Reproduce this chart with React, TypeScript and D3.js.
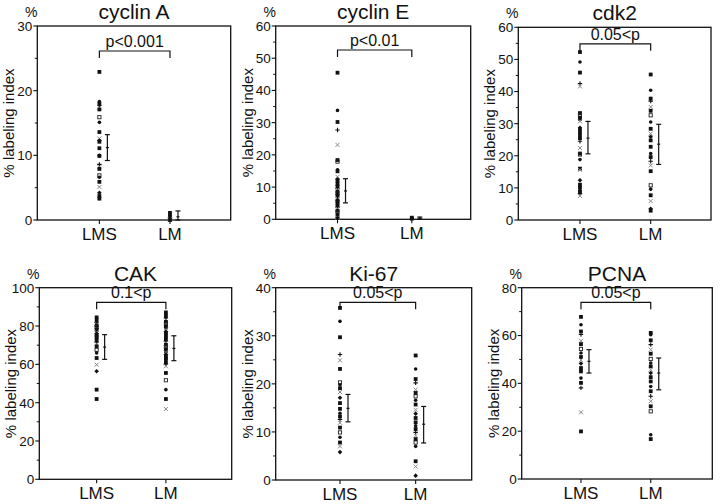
import React from "react";
import * as d3 from "d3";

const groups = ["LMS", "LM"];
const titles = ["cyclin A", "cyclin E", "cdk2", "CAK", "Ki-67", "PCNA"];
const pLabels = ["p<0.001", "p<0.01", "0.05<p", "0.1<p", "0.05<p", "0.05<p"];
const yMax = [30, 60, 60, 100, 40, 80];
const yMajor = [10, 10, 10, 20, 10, 20];
const yMinor = [5, 5, 5, 10, 5, 10];

const cyclinA_LMS = [22.9, 18.3, 18.0, 17.7, 17.4, 17.1, 15.9, 15.1, 13.6, 12.6, 12.3, 12.1, 11.1, 10.0, 9.9, 8.6, 8.2, 7.9, 6.9, 6.6, 5.9, 5.1, 4.2, 3.7, 3.3];
const cyclinA_LM = [1.1, 0.8, 0.5, 0.3, 0.1, 0.0];
const cyclinE_LMS = [45.5, 33.8, 30.2, 27.7, 23.1, 18.4, 17.9, 15.4, 14.9, 13.2, 12.4, 12.0, 11.1, 10.6, 10.1, 9.5, 9.2, 8.6, 8.0, 7.7, 7.1, 6.4, 6.0, 5.6, 5.2, 4.6, 4.1, 3.8, 3.3, 2.7, 2.2, 1.6, 0.8, 0.5, 0.4];
const cyclinE_LM = [0.5, 0.3, 0.2];
const cdk2_LMS = [52.3, 49.2, 45.9, 42.5, 41.6, 33.3, 32.7, 32.0, 31.5, 30.7, 28.7, 28.0, 26.9, 26.2, 25.5, 24.5, 22.4, 20.7, 20.4, 18.8, 16.0, 15.6, 12.4, 11.0, 10.1, 9.2, 8.8, 8.2, 7.5];
const cdk2_LM = [45.3, 40.4, 37.8, 37.0, 35.2, 34.0, 32.6, 30.5, 28.4, 26.9, 25.9, 24.8, 22.8, 20.7, 19.6, 18.3, 17.0, 15.2, 10.8, 9.6, 7.7, 5.9, 3.5, 2.9];
const cak_LMS = [84.5, 83.6, 82.4, 81.8, 81.0, 80.3, 79.4, 78.6, 77.9, 76.8, 76.1, 75.2, 74.4, 73.6, 72.4, 71.5, 70.6, 69.4, 67.6, 65.9, 63.3, 59.8, 56.4, 46.8, 41.9];
const cak_LM = [87.1, 85.9, 85.0, 84.2, 83.1, 82.2, 81.0, 80.1, 79.2, 78.1, 77.0, 76.2, 75.1, 74.0, 73.2, 72.1, 71.0, 70.2, 69.0, 68.1, 67.0, 66.2, 65.1, 64.0, 63.1, 62.2, 61.0, 60.1, 59.0, 55.5, 51.7, 46.8, 41.9, 36.7];
const ki67_LMS = [35.8, 33.0, 29.7, 26.1, 24.9, 23.1, 20.3, 19.8, 19.1, 18.3, 17.1, 16.0, 14.8, 13.9, 13.2, 12.6, 11.9, 10.9, 9.9, 8.9, 7.8, 7.0, 5.8];
const ki67_LM = [25.9, 23.1, 21.0, 20.2, 18.8, 18.1, 17.4, 16.6, 15.7, 14.6, 13.8, 12.9, 12.0, 11.3, 10.6, 9.9, 9.2, 8.5, 7.8, 7.0, 3.9, 2.8, 0.9];
const pcna_LMS = [67.8, 64.5, 61.7, 60.4, 57.8, 56.4, 54.4, 52.7, 51.0, 49.7, 48.3, 46.4, 45.0, 42.2, 40.2, 38.1, 27.9, 19.9];
const pcna_LM = [61.1, 60.3, 58.0, 56.2, 54.1, 52.4, 50.2, 48.5, 47.1, 45.7, 44.3, 42.6, 40.8, 38.7, 36.7, 34.6, 32.5, 30.4, 28.3, 18.5, 16.7];

const points = [
  [cyclinA_LMS, cyclinA_LM],
  [cyclinE_LMS, cyclinE_LM],
  [cdk2_LMS, cdk2_LM],
  [cak_LMS, cak_LM],
  [ki67_LMS, ki67_LM],
  [pcna_LMS, pcna_LM],
];

const errMean = [[11.2, 0.5], [8.8, 0.4], [25.5, 23.6], [69.0, 68.3], [14.9, 11.6], [49.2, 44.3]];
const errLow = [[9.2, 0.0], [5.1, 0.1], [20.6, 17.3], [62.6, 61.9], [12.1, 7.7], [44.3, 37.3]];
const errHigh = [[13.2, 1.4], [12.6, 0.7], [30.7, 29.8], [75.5, 74.9], [17.8, 15.3], [54.1, 50.6]];

// layout (pixels)
const layout = [
  { L: 37.3, R: 230.7, T: 26, B: 220, gx: [0.321, 0.686], br: 25 },
  { L: 275.7, R: 470.7, T: 26, B: 219.3, gx: [0.317, 0.698], br: 24 },
  { L: 518.3, R: 711, T: 27.3, B: 220, gx: [0.32, 0.687], br: 16.5 },
  { L: 39.3, R: 231.7, T: 287.7, B: 479.3, gx: [0.298, 0.658], br: 14.6 },
  { L: 275.7, R: 471.7, T: 287.7, B: 480, gx: [0.328, 0.714], br: 14.6 },
  { L: 521.7, R: 712.3, T: 287.7, B: 479, gx: [0.311, 0.677], br: 14.6 },
];

const markerCycle = ["sq", "dot", "sq", "plus", "xg", "sq", "osq", "dot", "sq", "xg", "dia", "sq"];
const FONT = "'Liberation Sans', Arial, Helvetica, sans-serif";

function Marker({ type, x, y }: { type: string; x: number; y: number }) {
  switch (type) {
    case "sq":
      return <rect x={x - 1.9} y={y - 1.9} width={3.8} height={3.8} fill="#111" />;
    case "osq":
      return <rect x={x - 1.6} y={y - 1.6} width={3.2} height={3.2} fill="none" stroke="#222" strokeWidth={0.9} />;
    case "dot":
      return <circle cx={x} cy={y} r={1.8} fill="#111" />;
    case "plus":
      return <path d={`M${x - 2.2},${y}H${x + 2.2}M${x},${y - 2.2}V${y + 2.2}`} stroke="#111" strokeWidth={1.1} />;
    case "xg":
      return <path d={`M${x - 2},${y - 2}L${x + 2},${y + 2}M${x - 2},${y + 2}L${x + 2},${y - 2}`} stroke="#888" strokeWidth={1} />;
    default:
      return <path d={`M${x},${y - 2.3}L${x + 2.3},${y}L${x},${y + 2.3}L${x - 2.3},${y}Z`} fill="#111" />;
  }
}

function Panel({ i }: { i: number }) {
  const lo = layout[i];
  const y = d3.scaleLinear().domain([0, yMax[i]]).range([lo.B, lo.T]);
  const x = d3.scaleLinear().domain([0, 1]).range([lo.L, lo.R]);
  const majors = d3.range(0, yMax[i] + 0.001, yMajor[i]);
  const minors = d3.range(0, yMax[i] + 0.001, yMinor[i]).filter((v) => !majors.some((m) => Math.abs(m - v) < 1e-6));
  const gxs = lo.gx.map((f) => x(f));
  const by = lo.T + lo.br;
  const cx = (lo.L + lo.R) / 2;
  const cy = (lo.T + lo.B) / 2;
  return (
    <g fontFamily={FONT}>
      <rect x={lo.L} y={lo.T} width={lo.R - lo.L} height={lo.B - lo.T} fill="none" stroke="#111" strokeWidth={1.3} />
      {majors.map((v) => (
        <g key={"M" + v}>
          <line x1={lo.L - 4} x2={lo.L} y1={y(v)} y2={y(v)} stroke="#111" strokeWidth={1.1} />
          <text x={lo.L - 5} y={y(v)} dy="0.36em" textAnchor="end" fontSize={13.5} fill="#111">
            {v}
          </text>
        </g>
      ))}
      {minors.map((v) => (
        <line key={"m" + v} x1={lo.L - 2.5} x2={lo.L} y1={y(v)} y2={y(v)} stroke="#111" strokeWidth={1} />
      ))}
      {groups.map((g, k) => (
        <g key={g}>
          <line x1={gxs[k]} x2={gxs[k]} y1={lo.B} y2={lo.B + 4} stroke="#111" strokeWidth={1.1} />
          <text x={gxs[k]} y={lo.B + 20} textAnchor="middle" fontSize={17} fill="#111">
            {g}
          </text>
        </g>
      ))}
      <text x={cx} y={lo.T - 7} textAnchor="middle" fontSize={21} fill="#111">
        {titles[i]}
      </text>
      <text x={lo.L - 6} y={lo.T - 9} textAnchor="middle" fontSize={14} fill="#111">
        %
      </text>
      <text
        transform={`translate(${lo.L - 23},${cy}) rotate(-90)`}
        textAnchor="middle"
        fontSize={15}
        fill="#111"
      >
        % labeling index
      </text>
      <path
        d={`M${gxs[0]},${by + 7}V${by}H${gxs[1]}V${by + 7}`}
        fill="none"
        stroke="#111"
        strokeWidth={1.2}
      />
      <text x={(gxs[0] + gxs[1]) / 2} y={by - 4} textAnchor="middle" fontSize={16} fill="#111">
        {pLabels[i]}
      </text>
      {points[i].map((vals, k) =>
        vals.map((v, j) => <Marker key={k + "-" + j} type={markerCycle[j % markerCycle.length]} x={gxs[k]} y={y(v)} />)
      )}
      {groups.map((g, k) => {
        const ex = gxs[k] + 8;
        return (
          <g key={"e" + g} stroke="#111" strokeWidth={1.2}>
            <line x1={ex} x2={ex} y1={y(errLow[i][k])} y2={y(errHigh[i][k])} />
            <line x1={ex - 2.5} x2={ex + 2.5} y1={y(errLow[i][k])} y2={y(errLow[i][k])} />
            <line x1={ex - 2.5} x2={ex + 2.5} y1={y(errHigh[i][k])} y2={y(errHigh[i][k])} />
            <line x1={ex - 1.5} x2={ex + 1.5} y1={y(errMean[i][k])} y2={y(errMean[i][k])} />
          </g>
        );
      })}
    </g>
  );
}

export default function App() {
  return (
    <svg
      width={720}
      height={504}
      style={{ position: "absolute", left: 0, top: 0, background: "#fff" }}
    >
      <rect width={720} height={504} fill="#fff" />
      {titles.map((t, i) => (
        <Panel key={t} i={i} />
      ))}
    </svg>
  );
}
